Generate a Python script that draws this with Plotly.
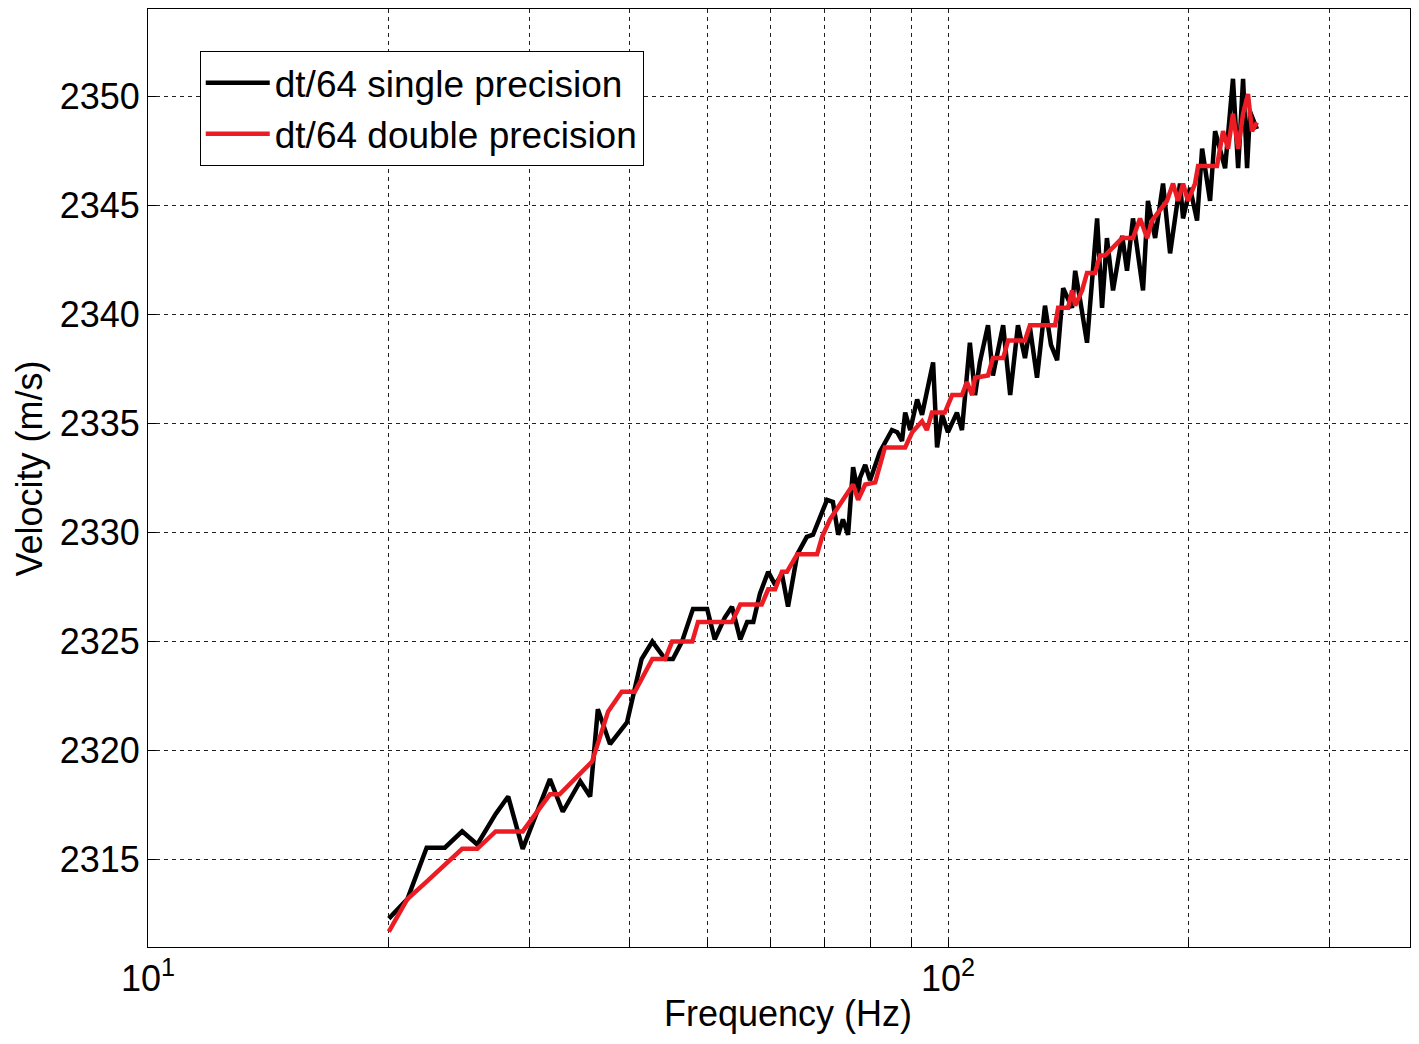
import numpy as np
import plotly.graph_objects as go

# single precision run (black)
freq_single = [20.0, 21.1, 22.3, 23.5, 24.7, 25.8, 27.2, 28.2, 29.4, 31.8, 33.0, 34.7, 35.7,
               36.5, 37.8, 39.7, 41.4, 42.7, 44.3, 45.3, 46.5, 48.0, 50.0, 51.1, 52.6, 53.7,
               55.0, 56.1, 57.1, 58.2, 59.6, 60.8, 62.0, 63.1, 64.8, 66.6, 67.8, 70.6, 71.8,
               72.9, 73.9, 75.0, 76.1, 77.2, 77.6, 78.8, 79.9, 82.2, 85.1, 86.4, 87.6, 88.4,
               89.7, 91.5, 92.8, 95.8, 96.9, 98.3, 100.0, 102.6, 104.1, 106.5, 108.1, 109.6,
               112.2, 113.8, 117.2, 119.6, 122.3, 124.8, 126.6, 129.2, 132.2, 134.5, 136.9,
               139.3, 142.9, 144.2, 146.5, 149.2, 153.6, 155.8, 158.0, 160.8, 165.1, 167.4,
               170.3, 175.3, 177.8, 181.5, 185.7, 189.5, 195.0, 196.7, 200.7, 204.8, 207.8,
               212.6, 215.7, 222.0, 227.1, 230.5, 233.8, 236.5, 238.5, 243.3]
vel_single = [2312.3, 2313.2, 2315.55, 2315.55, 2316.3, 2315.7, 2317.1, 2317.9, 2315.5, 2318.7,
              2317.2, 2318.6, 2317.9, 2321.9, 2320.3, 2321.3, 2324.2, 2325.0, 2324.2, 2324.2,
              2325.0, 2326.5, 2326.5, 2325.1, 2326.1, 2326.6, 2325.1, 2325.9, 2325.9, 2327.2,
              2328.2, 2327.6, 2328.1, 2326.6, 2329.0, 2329.8, 2329.9, 2331.5, 2331.4, 2329.9,
              2330.6, 2329.9, 2333.0, 2331.8, 2332.5, 2333.1, 2332.4, 2333.7, 2334.7, 2334.6,
              2334.2, 2335.5, 2334.7, 2336.1, 2335.4, 2337.8, 2333.9, 2335.4, 2334.6, 2335.5,
              2334.7, 2338.7, 2336.3, 2337.8, 2339.5, 2337.2, 2339.5, 2336.3, 2339.5, 2338.0,
              2339.4, 2337.1, 2340.4, 2338.6, 2337.9, 2341.2, 2340.3, 2342.0, 2340.5, 2338.7,
              2344.4, 2340.3, 2343.5, 2341.1, 2343.6, 2342.0, 2344.4, 2341.1, 2345.2, 2343.5,
              2346.0, 2342.8, 2346.0, 2344.4, 2345.8, 2344.3, 2347.6, 2345.2, 2348.4, 2346.7,
              2350.8, 2346.7, 2350.8, 2346.7, 2349.3, 2348.5]

# double precision run (red)
freq_double = [20.0, 21.1, 22.3, 24.7, 25.8, 27.2, 29.4, 31.8, 32.7, 35.9, 37.6, 39.1, 40.6,
               42.7, 44.3, 45.2, 47.9, 48.7, 53.7, 55.0, 58.5, 59.6, 60.8, 62.0, 62.9, 64.8,
               68.6, 69.6, 71.2, 73.7, 76.1, 77.2, 78.8, 81.1, 83.4, 88.4, 90.2, 92.8, 94.1,
               95.5, 99.1, 101.2, 104.1, 105.6, 107.2, 108.1, 112.2, 113.8, 117.2, 118.9,
               124.8, 126.6, 136.1, 137.3, 141.3, 142.9, 144.2, 147.1, 149.2, 152.7, 154.9,
               157.1, 165.1, 170.3, 173.8, 177.4, 179.9, 187.8, 191.1, 193.9, 196.7, 199.5,
               203.6, 205.4, 216.9, 220.7, 223.9, 227.1, 230.5, 233.8, 237.1, 239.9, 243.3]
vel_double = [2311.7, 2313.2, 2314.0, 2315.5, 2315.5, 2316.3, 2316.3, 2318.0, 2318.0, 2319.5,
              2321.8, 2322.7, 2322.7, 2324.2, 2324.2, 2325.0, 2325.0, 2325.9, 2325.9, 2326.7,
              2326.7, 2327.4, 2327.4, 2328.2, 2328.2, 2329.0, 2329.0, 2329.8, 2330.6, 2331.4,
              2332.2, 2331.5, 2332.2, 2332.3, 2333.9, 2333.9, 2334.6, 2335.1, 2334.7, 2335.5,
              2335.5, 2336.3, 2336.3, 2336.9, 2336.3, 2337.1, 2337.2, 2338.0, 2338.0, 2338.8,
              2338.8, 2339.5, 2339.5, 2340.3, 2340.3, 2341.1, 2340.4, 2341.1, 2341.9, 2341.9,
              2342.7, 2342.7, 2343.5, 2343.5, 2344.4, 2343.5, 2344.3, 2345.2, 2346.0, 2345.2,
              2346.0, 2345.2, 2346.0, 2346.8, 2346.8, 2348.4, 2347.6, 2349.2, 2347.6, 2349.2,
              2350.1, 2348.4, 2348.8]

x_tickvals = [10, 20, 30, 40, 50, 60, 70, 80, 90, 100, 200, 300]
x_ticktext = ['10<sup>1</sup>', '', '', '', '', '', '', '', '', '10<sup>2</sup>', '', '']
y_tickvals = [2315, 2320, 2325, 2330, 2335, 2340, 2345, 2350]

font = 'Liberation Sans, Arial, sans-serif'

fig = go.Figure()
fig.add_trace(go.Scatter(x=freq_single, y=vel_single, mode='lines', name='dt/64 single precision',
                         line=dict(color='black', width=4.5)))
fig.add_trace(go.Scatter(x=freq_double, y=vel_double, mode='lines', name='dt/64 double precision',
                         line=dict(color='#ec1c24', width=4.5)))

axis_common = dict(showline=True, linecolor='black', linewidth=1, mirror=True,
                   showgrid=True, gridcolor='#222222', gridwidth=1, griddash='4px,4px',
                   ticks='inside', ticklen=8, tickcolor='black', zeroline=False,
                   automargin=False)

# the page body adds an 8px margin, so keep the figure inside the window
fig.update_layout(
    width=1403, height=1028,
    margin=dict(l=140, r=1, t=1, b=89),
    plot_bgcolor='white', paper_bgcolor='white',
    font=dict(family=font, size=36, color='black'),
    xaxis=dict(type='log', range=[1, np.log10(378)], tickvals=x_tickvals, ticktext=x_ticktext,
               **axis_common),
    yaxis=dict(range=[2311, 2354], tickvals=y_tickvals, **axis_common),
    legend=dict(x=0.041, y=0.955, xanchor='left', yanchor='top', bgcolor='white',
                bordercolor='black', borderwidth=1, itemwidth=64,
                font=dict(family=font, size=37), tracegroupgap=0),
    showlegend=True,
)

# axis titles placed as annotations so they sit where the original has them
fig.add_annotation(text='Frequency (Hz)', xref='paper', yref='paper', x=0.507, y=-0.071,
                   xanchor='center', yanchor='middle', showarrow=False, font=dict(size=36))
fig.add_annotation(text='Velocity (m/s)', xref='paper', yref='paper', x=-0.0935, y=0.51,
                   xanchor='center', yanchor='middle', textangle=-90, showarrow=False,
                   font=dict(size=36))

fig.write_html("out.html")
